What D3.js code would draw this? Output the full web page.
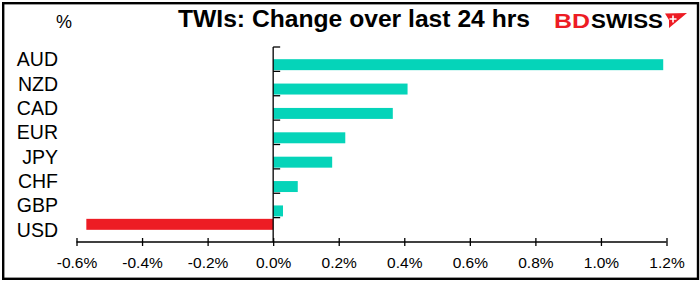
<!DOCTYPE html>
<html>
<head>
<meta charset="utf-8">
<script src="https://cdn.jsdelivr.net/npm/d3@7"></script>
<style>
  body { margin: 0; background: #fff; }
  svg { display: block; font-family: "Liberation Sans", Arial, sans-serif; }
</style>
</head>
<body>
<div id="chart"></div>
<script>
// data
var categories = ["AUD", "NZD", "CAD", "EUR", "JPY", "CHF", "GBP", "USD"];
var changes = [1.19, 0.41, 0.365, 0.22, 0.18, 0.075, 0.03, -0.57];
var tickValues = [-0.6, -0.4, -0.2, 0.0, 0.2, 0.4, 0.6, 0.8, 1.0, 1.2];
var seriesKeys = ["down", "up"]; // two excel series: red slot above, teal slot below

var width = 700, height = 281;
var colors = { up: "#05d4b9", down: "#ed1c24" };

var svg = d3.select("#chart").append("svg")
    .attr("width", width).attr("height", height);

svg.append("rect").attr("width", width).attr("height", height).attr("fill", "#fff");

// frame
svg.append("rect")
    .attr("x", 3.2).attr("y", 3.2)
    .attr("width", 694.8).attr("height", 275.6)
    .attr("fill", "none").attr("stroke", "#000").attr("stroke-width", 2.4);

var x = d3.scaleLinear().domain([-0.6, 1.2]).range([76.5, 666.5]);
var y0 = d3.scaleBand().domain(categories).range([47, 242])
    .paddingInner(0.1).paddingOuter(0.05);
var y1 = d3.scaleBand().domain(seriesKeys).range([0, y0.bandwidth()]);

var rows = categories.map(function(c, i) {
    return { cat: c, value: changes[i], key: changes[i] < 0 ? "down" : "up" };
});

// bars
svg.append("g").selectAll("rect").data(rows).enter().append("rect")
    .attr("x", function(d) { return x(Math.min(0, d.value)); })
    .attr("y", function(d) { return y0(d.cat) + y1(d.key); })
    .attr("width", function(d) { return Math.abs(x(d.value) - x(0)); })
    .attr("height", y1.bandwidth())
    .attr("fill", function(d) { return colors[d.key]; });

// category axis at zero
var step = y0.step();
var plotTop = y0(categories[0]) - step * 0.05;
var plotBottom = plotTop + step * categories.length;
var catAxis = svg.append("g").attr("stroke", "#000").attr("stroke-width", 1.3);
catAxis.append("line")
    .attr("x1", x(0)).attr("x2", x(0))
    .attr("y1", plotTop).attr("y2", plotBottom);
catAxis.selectAll(".tk").data(d3.range(categories.length)).enter().append("line")
    .attr("x1", x(0)).attr("x2", x(0) + 7)
    .attr("y1", function(i) { return plotTop + i * step; })
    .attr("y2", function(i) { return plotTop + i * step; });

svg.append("g").selectAll("text").data(categories).enter().append("text")
    .attr("x", 58)
    .attr("y", function(d) { return y0(d) + y0.bandwidth() / 2; })
    .attr("dy", "0.36em")
    .attr("text-anchor", "end")
    .attr("font-size", 19.5)
    .attr("fill", "#000")
    .text(function(d) { return d; });

// value axis
var xAxis = svg.append("g")
    .attr("transform", "translate(0," + plotBottom + ")")
    .call(d3.axisBottom(x).tickValues(tickValues).tickSize(4).tickPadding(0)
        .tickFormat(function(v) { return v.toFixed(1) + "%"; }));
xAxis.select(".domain").attr("stroke", "#000").attr("stroke-width", 1.3)
    .attr("d", "M" + x(-0.6) + ",0H" + x(1.2));
xAxis.selectAll(".tick line").attr("stroke", "#000").attr("stroke-width", 1.3)
    .attr("y1", -4).attr("y2", 4);
xAxis.selectAll(".tick text")
    .attr("y", 20).attr("dy", "0.36em")
    .attr("font-size", 15.5).attr("font-family", "Liberation Sans, Arial, sans-serif")
    .attr("fill", "#000");

// unit label and title
svg.append("text").attr("x", 56).attr("y", 28)
    .attr("font-size", 18).attr("fill", "#000").text("%");

svg.append("text").attr("x", 178).attr("y", 27)
    .attr("font-size", 23).attr("font-weight", "bold")
    .attr("textLength", 352).attr("lengthAdjust", "spacingAndGlyphs")
    .attr("fill", "#000")
    .text("TWIs: Change over last 24 hrs");

// logo
var logo = svg.append("g");
logo.append("text").attr("x", 554).attr("y", 27.5)
    .attr("font-size", 20).attr("font-weight", "bold")
    .attr("textLength", 36).attr("lengthAdjust", "spacingAndGlyphs")
    .attr("fill", "#ed1c24").text("BD");
logo.append("text").attr("x", 591).attr("y", 27.5)
    .attr("font-size", 20).attr("font-weight", "bold")
    .attr("textLength", 72).attr("lengthAdjust", "spacingAndGlyphs")
    .attr("fill", "#000").text("SWISS");
logo.append("path")
    .attr("d", "M665,13.5 L687,13 L669,28 L669,20 Z")
    .attr("fill", "#ed1c24");
logo.append("path")
    .attr("d", "M673,15.5 V22.5 M669.5,19 H676.5")
    .attr("stroke", "#fff").attr("stroke-width", 1.6);
</script>
</body>
</html>
